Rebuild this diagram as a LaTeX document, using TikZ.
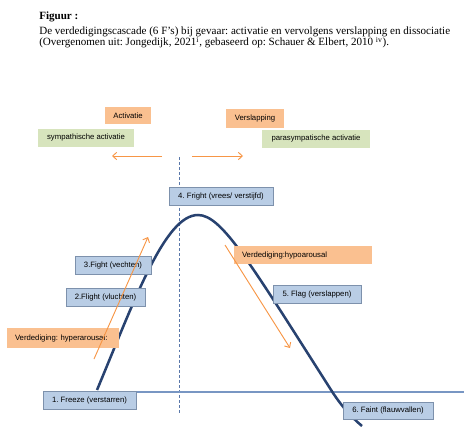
\documentclass[tikz,border=0pt]{standalone}
\usepackage{fontspec}
\setmainfont{Liberation Serif}
\newfontfamily\labelfont{Liberation Sans}
\usetikzlibrary{arrows.meta}
\frenchspacing
\definecolor{orangebox}{RGB}{250,192,144}
\definecolor{greenbox}{RGB}{215,228,189}
\definecolor{bluebox}{RGB}{185,205,229}
\definecolor{blueline}{RGB}{125,145,172}
\definecolor{orangearrow}{RGB}{247,150,70}
\definecolor{curveblue}{RGB}{40,66,112}
\definecolor{dashblue}{RGB}{90,120,170}
\definecolor{baseblue}{RGB}{120,150,195}
\begin{document}
\begin{tikzpicture}[x=0.75pt,y=-0.75pt,
  every node/.style={font=\labelfont\fontsize{5.8}{7}\selectfont,inner sep=0pt},
  phasebox/.style={draw=blueline,fill=bluebox,line width=0.6pt,minimum height=13.5pt},
  headbox/.style={fill=orangebox,minimum height=13.5pt},
  sidebox/.style={fill=greenbox,minimum height=13.5pt},
  defbox/.style={fill=orangebox,align=left,text width=#1,inner xsep=6pt,minimum height=14pt},
  shiftarrow/.style={draw=orangearrow,line width=0.7pt,-{Straight Barb[length=3pt,width=5.5pt]}},
  caption/.style={anchor=base west,font=\rmfamily\fontsize{8.3}{10}\selectfont}]
\useasboundingbox (0,0) rectangle (474,442);
% caption
\node[caption,font=\rmfamily\bfseries\fontsize{8.3}{10}\selectfont] (title) at (39,19.3) {Figuur :};
\node[caption] (line1) at (39,34.3) {De verdedigingscascade (6 F's) bij gevaar: activatie en vervolgens verslapping en dissociatie};
\node[caption] (line2) at (39,46) {(Overgenomen uit: Jongedijk, 2021\textsuperscript{i}, gebaseerd op: Schauer \& Elbert, 2010 \textsuperscript{iv}).};
% axis and curve
\coordinate (dash-top) at (179,157);
\coordinate (dash-bot) at (179,413);
\coordinate (base-w) at (60,392);
\coordinate (base-e) at (464,392);
\coordinate (start) at (97,390);
\coordinate (peak) at (198,215);
\coordinate (low) at (333,393);
\coordinate (end) at (362,426);
\draw[dashblue,line width=0.7pt,dash pattern=on 2.2pt off 1.6pt] (dash-top) -- (dash-bot);
\draw[baseblue,line width=0.9pt] (base-w) -- (base-e);
\draw[curveblue,line width=1.9pt] (start) .. controls (135,299) and (165,215) .. (peak)
  .. controls (222,215) and (250,263) .. (low) .. controls (341,405) and (350,416) .. (end);
% labels
\node[headbox,minimum width=34.5pt,minimum height=12.75pt] (act) at (128,115.5) {Activatie};
\node[sidebox,minimum width=72pt] (symp) at (86,138) {sympathische activatie};
\node[headbox,minimum width=43.5pt,minimum height=14.25pt] (versl) at (255,118.5) {Verslapping};
\node[sidebox,minimum width=81pt] (para) at (316,139) {parasympatische activatie};
\node[phasebox,minimum width=78pt] (fright) at (221,196) {4. Fright (vrees/ verstijfd)};
\node[phasebox,minimum width=57pt] (fight) at (113,265) {3.Fight (vechten)};
\node[phasebox,minimum width=59.25pt] (flight) at (105.5,297) {2.Flight (vluchten)};
\node[defbox=72pt,minimum height=15pt] (hyper) at (63,338) {Verdediging: hyperarousal:};
\node[defbox=91.5pt] (hypo) at (303,255) {Verdediging:hypoarousal};
\node[phasebox,minimum width=66pt] (flag) at (317,294) {5. Flag (verslappen)};
\node[phasebox,minimum width=69.75pt] (freeze) at (89.5,400) {1. Freeze (verstarren)};
\node[phasebox,minimum width=67.5pt,minimum height=12.75pt] (faint) at (388,410.5) {6. Faint (flauwvallen)};
% arrows
\coordinate (left-from) at (162,156);
\coordinate (left-to) at (112,156);
\coordinate (right-from) at (192,156);
\coordinate (right-to) at (243,156);
\coordinate (up-from) at (94,359);
\coordinate (up-to) at (148,237);
\coordinate (down-from) at (225,245);
\coordinate (down-to) at (290,348);
\draw[shiftarrow] (left-from) -- (left-to);
\draw[shiftarrow] (right-from) -- (right-to);
\draw[shiftarrow] (up-from) -- (up-to);
\draw[shiftarrow] (down-from) -- (down-to);
\end{tikzpicture}
\end{document}
